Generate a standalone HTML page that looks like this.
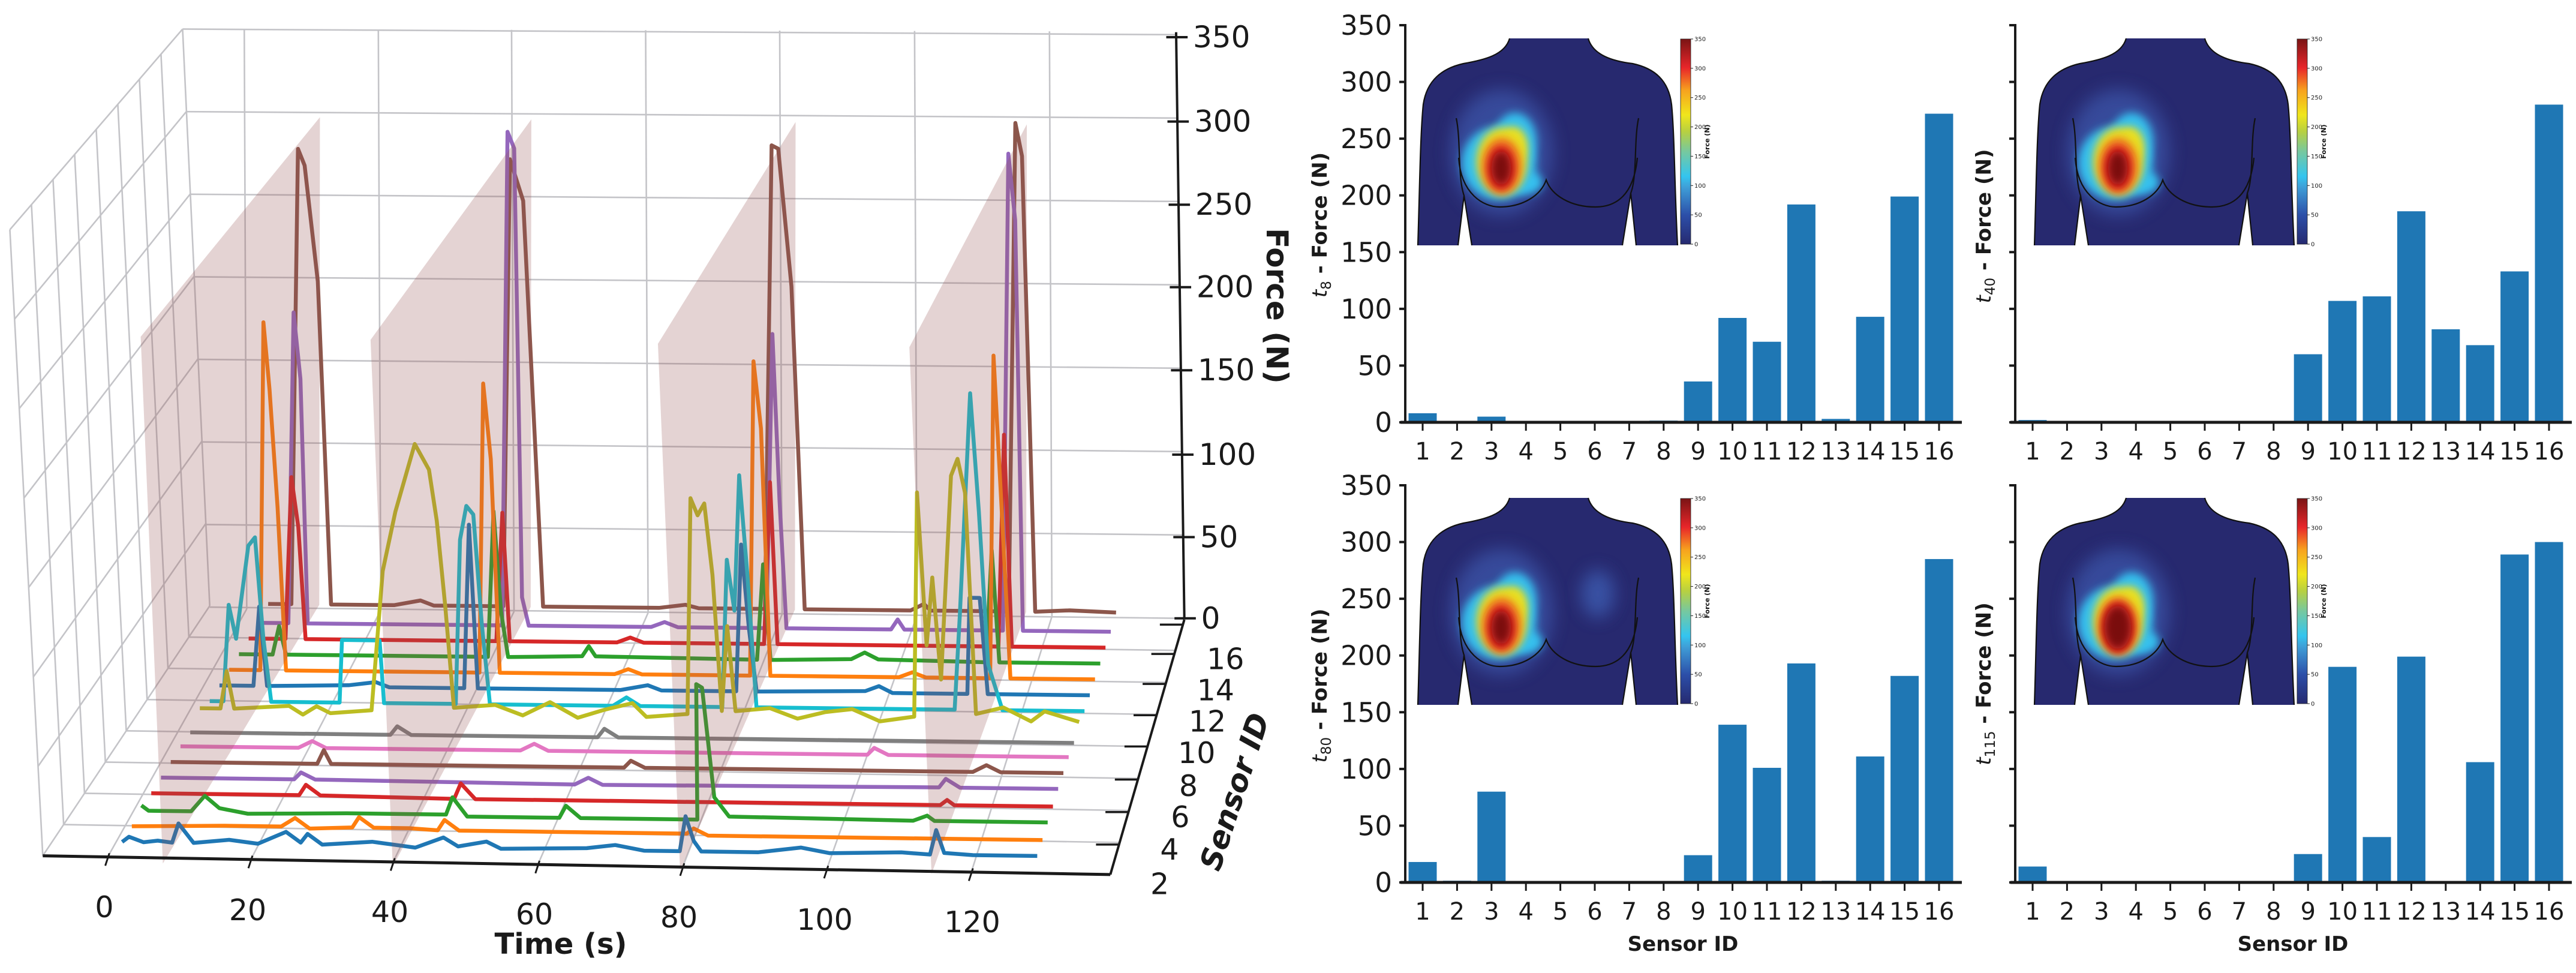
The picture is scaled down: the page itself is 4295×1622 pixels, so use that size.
<!DOCTYPE html>
<html><head><meta charset="utf-8"><style>
html,body{margin:0;padding:0;background:#fff;}
svg{display:block;font-family:"DejaVu Sans","Liberation Sans",sans-serif;}
</style></head><body>
<svg id="fig" xmlns="http://www.w3.org/2000/svg" width="4295" height="1622" viewBox="0 0 4295 1622">
<defs>
<linearGradient id="jet" x1="0" y1="1" x2="0" y2="0">
<stop offset="0" stop-color="#262a70"/><stop offset="0.14" stop-color="#2c4ea8"/><stop offset="0.28" stop-color="#3fa0d8"/><stop offset="0.33" stop-color="#34c5ef"/><stop offset="0.45" stop-color="#76c8a0"/><stop offset="0.55" stop-color="#b8d040"/><stop offset="0.63" stop-color="#f0e61c"/><stop offset="0.75" stop-color="#f7a21e"/><stop offset="0.86" stop-color="#e8262a"/><stop offset="1" stop-color="#7a1414"/>
</linearGradient>
<filter id="blur" x="-50%" y="-50%" width="200%" height="200%"><feGaussianBlur stdDeviation="7"/></filter>
<filter id="blur2" x="-50%" y="-50%" width="200%" height="200%"><feGaussianBlur stdDeviation="14"/></filter>
</defs>
<g id="left3d"></g>
<g id="bars"></g>
</svg>
<script>
// ---------- 3D chart data ----------
const sensorColors = ["#1f77b4","#ff7f0e","#2ca02c","#d62728","#9467bd","#8c564b","#e377c2","#7f7f7f","#bcbd22","#17becf","#1f77b4","#ff7f0e","#2ca02c","#d62728","#9467bd","#8c564b"];
const eventTimes = [8, 40, 80, 115];
const timeTicks = [0, 20, 40, 60, 80, 100, 120];
const forceTicks = [0, 50, 100, 150, 200, 250, 300, 350];
const sensorTicks = [2, 4, 6, 8, 10, 12, 14, 16];
const trace1 = [[1,3],[2,6],[4,3],[6,4],[8,3],[9,14],[11,3],[16,5],[20,3],[24,10],[26,4],[27,9],[29,3],[36,5],[40,3],[42,2],[46,8],[48,3],[52,6],[54,2],[66,3],[70,5],[74,2],[79,2],[80,22],[81,8],[82,2],[90,2],[96,5],[100,2],[110,3],[114,2],[115,16],[116,3],[120,2],[129,2]];
const trace2 = [[1,3],[14,4],[22,4],[24,9],[26,3],[32,4],[33,10],[35,4],[40,4],[44,3],[45,9],[47,3],[60,3],[79,3],[80,6],[82,2],[129,2]];
const trace3 = [[1,6],[2,3],[8,3],[10,12],[12,5],[16,2],[30,3],[44,3],[45,13],[47,2],[60,2],[61,9],[63,2],[79.5,2],[80,80],[80.8,78],[82,15],[84,4],[110,3],[112,6],[113,3],[129,3]];
const trace4 = [[1,4],[22,4],[23,10],[25,4],[44,3],[45,12],[47,3],[113,3],[114,6],[115,3],[129,3]];
const trace5 = [[1,4],[20,4],[21,8],[23,4],[60,3],[62,7],[64,3],[112,4],[113,9],[115,4],[129,4]];
const trace6 = [[1,4],[22,4],[23,12],[24,4],[66,4],[67,8],[69,4],[116,4],[118,8],[120,4],[129,4]];
const trace7 = [[1,4],[18,4],[20,8],[22,4],[50,4],[52,8],[54,4],[100,4],[101,8],[103,4],[129,4]];
const trace8 = [[1,3],[30,3],[31,8],[33,3],[60,3],[61,8],[63,3],[120,3],[129,3]];
const trace9 = [[1,8],[4,8],[5,30],[6,8],[14,10],[16,5],[18,10],[20,6],[26,8],[28,90],[30,125],[33,165],[35,150],[36,120],[37,70],[38,10],[44,12],[48,6],[52,14],[56,5],[60,10],[64,14],[66,6],[72,8],[73,135],[74,125],[75,132],[76,90],[77,10],[78,60],[79,10],[84,12],[88,6],[92,10],[96,12],[100,5],[105,8],[106,140],[107,50],[108,90],[109,30],[111,150],[112,160],[113,140],[114,10],[118,14],[122,6],[124,12],[129,6]];
const trace10 = [[1,3],[3,3],[4,60],[5,40],[7,95],[8,100],[9,40],[10,3],[20,3],[20.5,40],[26,40],[26.5,3],[37,3],[38,100],[39,120],[40,115],[41,50],[42,3],[60,3],[62,8],[64,3],[76,3],[77,90],[78,60],[79,140],[80,80],[81,3],[110,3],[111,60],[113,190],[114,120],[115,30],[117,3],[129,3]];
const trace11 = [[1,3],[6,3],[7,50],[8,3],[20,4],[24,6],[26,3],[37,3],[38,100],[39,3],[60,3],[64,6],[66,3],[77,3],[78,90],[79,40],[80,3],[96,4],[98,7],[100,3],[111,3],[111.5,60],[113,60],[114,3],[129,3]];
const trace12 = [[1,3],[5.6,3],[6.6,210],[7.4,170],[8.4,100],[9.4,3],[38,3],[39,175],[40,130],[41,3],[58,3],[60,6],[62,3],[78,3],[79,190],[80,150],[81,3],[100,3],[102,6],[104,3],[113.5,3],[114.5,195],[115.5,100],[116.5,3],[129,3]];
const trace13 = [[1,3],[6,3],[7,20],[8,3],[38,3],[39,90],[40,30],[41,3],[52,4],[53,10],[54,4],[78,3],[79,60],[80,3],[92,4],[94,8],[96,4],[112,3],[113,70],[114,3],[129,3]];
const trace14 = [[1,3],[6.5,3],[7.5,100],[8.5,70],[9.5,3],[38,3],[39,80],[40,3],[56,3],[58,6],[60,3],[78,3],[79,100],[80,3],[113,3],[114,130],[115,3],[129,3]];
const trace15 = [[1,3],[5.5,3],[6.4,190],[7.4,150],[8.4,3],[37.6,3],[38.6,300],[39.6,290],[40.6,20],[41.6,3],[60,3],[62,6],[64,3],[77.3,3],[78.3,180],[79.3,80],[80.3,3],[96,3],[97,9],[98,3],[112.8,3],[113.8,290],[114.8,250],[115.8,3],[129,3]];
const trace16 = [[1,5],[4.5,5],[5.5,280],[6.5,270],[8.5,200],[10.5,5],[20,5],[24,8],[26,5],[36.5,5],[37.5,275],[39.5,250],[42.5,5],[60,5],[64,7],[66,5],[76,5],[77,285],[78,283],[80,200],[82,5],[98,5],[100,9],[101,5],[112.8,5],[113.8,300],[114.8,280],[116.8,5],[122,6],[129,5]];
const traces = [trace1,trace2,trace3,trace4,trace5,trace6,trace7,trace8,trace9,trace10,trace11,trace12,trace13,trace14,trace15,trace16];

// ---------- bar data ----------
const sensorIds = [1,2,3,4,5,6,7,8,9,10,11,12,13,14,15,16];
const t8Values   = [8,0,5,0,1,0,0,1.5,36,92,71,192,3,93,199,272];
const t40Values  = [2,1,0,0,0,0,1,1,60,107,111,186,82,68,133,280];
const t80Values  = [18,1.5,80,1,1,0,0,1,24,139,101,193,1.5,111,182,285];
const t115Values = [14,1,0,0,0,1,0,1,25,190,40,199,1,106,289,300];
const barTicks = [0,50,100,150,200,250,300,350];
const cbarTicks = [0,50,100,150,200,250,300,350];

const NS = "http://www.w3.org/2000/svg";
function add(tag, parent){ const e = document.createElementNS(NS, tag); parent.appendChild(e); return e; }
function set(e, o){ for (const k in o) e.setAttribute(k, o[k]); return e; }
const lerp = (a,b,t) => a + (b-a)*t;

// ================= LEFT 3D CHART =================
const L = document.getElementById('left3d');
const MX = x => x*1.3713;
const MY = y => y*1.0417 - 10.9;
function proj(t, s, f){
  const u = t/130, v = (s-1)/15;
  const x0 = lerp(lerp(140,1270,u), lerp(318,1365,u), v);
  const y0 = lerp(lerp(1366,1386,u), lerp(990,1004,u), v);
  const k = 2.80 - 0.15*v;
  const h = f*k;
  return [MX(x0 - h*0.03*(1-v)), MY(y0 - h)];
}
function zl(x1,y1,x2,y2,parent,color,w){
  const e = add('line', parent);
  set(e,{x1:MX(x1),y1:MY(y1),x2:MX(x2),y2:MY(y2),stroke:color,'stroke-width':w});
  return e;
}
const grid = add('g', L);


const GC = "#c4c4c8", GW = 2.6;
for (let i=0;i<8;i++){
  const a = i/7;
  const e = zl(lerp(222,255,a), lerp(57,982,a), lerp(1430,1440,a), lerp(66,1000,a), grid, GC, GW);
  
  
}
const backX = [297,460,622,785,948,1112,1276];
const frontX = [131,305,478,654,830,1005,1181];
backX.forEach((bx,i)=>{
  const e = zl(bx,57+i*0.6,bx+3,985+i*2,grid,GC,GW);
  
  
  const a = (frontX[i]-52)/(1350-52);
  const f = zl(frontX[i], lerp(1380,1410,a), bx+3, 985+i*2, grid, GC, GW);
  
  
});
for (let i=0;i<8;i++){
  const a = i/7;
  const e = zl(lerp(222,255,a), lerp(57,980,a), lerp(12,52,a), lerp(378,1380,a), grid, GC, GW);
  
  
}
for (let j=0;j<=8;j++){
  const a = j/8;
  const e = zl(lerp(12,222,a), lerp(378,57,a), lerp(52,255,a), lerp(1380,980,a), grid, GC, GW);
  
  
  if (j>0 && j<8){
    const f = zl(lerp(52,255,a), lerp(1380,980,a), lerp(1350,1440,a), lerp(1410,1000,a), grid, GC, GW);
    
    
  }
}
const tg = add('g', L);


for (let si=15; si>=0; si--){
  const pts = traces[si].map(p => proj(p[0], si+1, p[1]).map(v=>v.toFixed(1)).join(',')).join(' ');
  const pl = add('polyline', tg);
  set(pl,{points:pts,fill:'none',stroke:sensorColors[si],'stroke-width':6.5,'stroke-linejoin':'round'});
  
  
}
eventTimes.forEach(t=>{
  const c = [proj(t,0,0),proj(t,16.5,0),proj(t,16.5,295),proj(t,0,300)];
  const pg = add('polygon', L);
  set(pg,{points:c.map(p=>p.join(',')).join(' '),fill:'rgba(150,85,85,0.26)'});
  
  
});
const ax = add('g', L);


const fa = zl(1430,62,1440,1000,ax,'#1a1a1a',4);


const ta = zl(52,1380,1350,1410,ax,'#1a1a1a',5);


const sa = zl(1350,1410,1440,1002,ax,'#1a1a1a',4);


const zyLevels = [1000,870,738,603,470,338,205,70];
forceTicks.forEach((v,i)=>{
  const zy = zyLevels[i];
  const x = lerp(1440,1430,(1000-zy)/930);
  const tk = zl(x-12,zy,x+14,zy,ax,'#1a1a1a',4);
  
  
  const tx = add('text', ax);
  set(tx,{x:MX(x)+28,y:MY(zy)+17,'font-size':50,fill:'#1a1a1a'});
  tx.textContent = v;
  
  
});
const tLabelPos = [[174,1512],[413,1517],[650,1520],[891,1524],[1132,1529],[1375,1533],[1621,1537]];
timeTicks.forEach((v,i)=>{
  const fx = frontX[i], a = (fx-52)/1298, fy = lerp(1380,1410,a);
  const tk = zl(fx+2,fy-6,fx-3,fy+14,ax,'#1a1a1a',3);
  
  
  const tx = add('text', ax);
  set(tx,{x:tLabelPos[i][0],y:tLabelPos[i][1]+17,'font-size':49,'text-anchor':'middle',fill:'#1a1a1a'});
  tx.textContent = v;
  
  
});
const sTickY = [1010,1057,1105,1155,1205,1258,1310,1362];
const sLabel = [[1490,1065],[1478,1115],[1468,1165],[1455,1215],[1445,1268],[1435,1318],[1422,1370],[1410,1425]];
sensorTicks.slice().reverse().forEach((v,i)=>{
  const zy = sTickY[i], x = lerp(1440,1350,(zy-1002)/408);
  const tk = zl(x-28,zy,x,zy,ax,'#1a1a1a',3.5);
  
  
  const tx = add('text', ax);
  set(tx,{x:MX(sLabel[i][0]),y:MY(sLabel[i][1])+17,'font-size':49,'text-anchor':'middle',fill:'#1a1a1a'});
  tx.textContent = v;
  
  
});
</script>
<script>
(function(){
  const L = document.getElementById('left3d');
  const t1 = document.createElementNS(NS,'text');
  L.appendChild(t1);
  set(t1,{x:935,y:1590,'font-size':48,'font-weight':'bold','text-anchor':'middle',fill:'#1a1a1a'});
  t1.textContent = 'Time (s)';
  
  
  const t2 = document.createElementNS(NS,'text');
  L.appendChild(t2);
  set(t2,{x:2112,y:510,'font-size':50,'font-weight':'bold','text-anchor':'middle',transform:'rotate(90 2112 510)',fill:'#1a1a1a'});
  t2.textContent = 'Force (N)';
  
  
  const t3 = document.createElementNS(NS,'text');
  L.appendChild(t3);
  set(t3,{x:2075,y:1325,'font-size':50,'font-weight':'bold','font-style':'italic','text-anchor':'middle',transform:'rotate(-72 2075 1325)',fill:'#1a1a1a'});
  t3.textContent = 'Sensor ID';
  
  
})();

// ================= BAR PANELS =================
const B = document.getElementById('bars');
const SCALE = 662/350;
const panels = [
  {name:'t8', sub:'8', vals:t8Values, ax:2343, y0:704, showY:true, lx:2212, ly:375, ix:2364, iy:64, rightBlob:false},
  {name:'t40', sub:'40', vals:t40Values, ax:3360, y0:704, showY:false, lx:3319, ly:377, ix:3392, iy:64, rightBlob:false},
  {name:'t80', sub:'80', vals:t80Values, ax:2343, y0:1471, showY:true, lx:2212, ly:1143, ix:2364, iy:830, rightBlob:true, xlabel:true},
  {name:'t115', sub:'115', vals:t115Values, ax:3360, y0:1471, showY:false, lx:3319, ly:1140, ix:3392, iy:830, rightBlob:false, xlabel:true}
];
function yPos(p,v){ return p.y0 - v*SCALE; }
function xPos(p,i){ return p.ax + 29 + i*57.4; }

function drawInset(p, g){
  const ig = add('g', g);
  set(ig,{transform:'translate('+p.ix+','+p.iy+')'});
  
  
  const bodyD = "M153,0 L284,0 C292,28 325,38 358,42 C395,50 418,70 423,110 C428,160 428,250 433,345 L0,345 C3,250 4,160 9,110 C15,70 40,50 76,42 C110,36 145,28 153,0 Z";
  const cp = add('clipPath', ig);
  set(cp,{id:'clip-'+p.name});
  const cpp = add('path', cp);
  set(cpp,{d:bodyD});
  const body = add('path', ig);
  set(body,{d:bodyD,fill:'#27296f'});
  
  
  const heat = add('g', ig);
  set(heat,{'clip-path':'url(#clip-'+p.name+')'});
  
  
  const big = p.name==='t115';
  const blobs = [
    ['#3d58ad',0.7,140,190,85,105,'blur2'],
    ['#34c0ee',1,135,208,62,62,'blur'],['#34c0ee',1,162,172,36,48,'blur'],['#34c0ee',1,178,240,30,20,'blur'],
    ['#e8e020',1,140,205,42,56,'blur'],['#e8e020',1,160,178,22,30,'blur'],
    ['#f08020',1,140,212,33,47,'blur'],
    ['#e02020',1,139,216,big?28:24,big?44:38,'blur'],
    ['#7a1010',1,139,216,big?22:16,big?36:28,'blur']
  ];
  if (p.rightBlob) blobs.unshift(['#3e5cb0',0.8,300,160,28,40,'blur2']);
  blobs.forEach(b=>{
    const e = add('ellipse', heat);
    set(e,{cx:b[2],cy:b[3],rx:b[4],ry:b[5],fill:b[0],opacity:b[1],filter:'url(#'+b[6]+')'});
  });
  const gaps = add('path', ig);
  set(gaps,{d:"M67,346 L77,262 L90,346 Z M341,346 L355,258 L364,346 Z",fill:'#fff'});
  const lines = add('path', ig);
  set(lines,{d:"M0,345 C3,250 4,160 9,110 C15,70 40,50 76,42 C110,36 145,28 153,0 M284,0 C292,28 325,38 358,42 C395,50 418,70 423,110 C428,160 428,250 433,345 M64,133 C72,170 66,230 77,262 L67,345 M77,262 L90,345 M368,133 C360,170 366,230 355,258 L364,345 M355,258 L341,345 M68,199 C72,260 110,281 136,281 C175,281 205,262 214,236 C223,262 255,281 296,281 C330,281 360,262 366,199",fill:'none',stroke:'#111','stroke-width':2.2});
  
  
  const cb = add('rect', ig);
  set(cb,{x:438,y:1,width:17,height:342,fill:'url(#jet)',stroke:'#222','stroke-width':0.8});
  
  
  cbarTicks.forEach(v=>{
    const y = 343 - v/350*342;
    const tk = add('line', ig);
    set(tk,{x1:455,y1:y,x2:459,y2:y,stroke:'#222','stroke-width':1});
    const tx = add('text', ig);
    set(tx,{x:461,y:y+3.5,'font-size':10,fill:'#222'});
    tx.textContent = v;
    
    
  });
  const ct = add('text', ig);
  set(ct,{x:486,y:172,'font-size':11,'font-weight':'bold','text-anchor':'middle',transform:'rotate(-90 486 172)',fill:'#111'});
  ct.textContent = 'Force (N)';
  
  
}

panels.forEach(p=>{
  const g = add('g', B);
  
  
  p.vals.forEach((v,i)=>{
    const h = v*SCALE;
    const r = add('rect', g);
    set(r,{x:xPos(p,i)-23.5,y:yPos(p,v),width:47,height:h,fill:'#1f77b4'});
    
    
  });
  drawInset(p, g);
  const ya = add('line', g);
  set(ya,{x1:p.ax,y1:yPos(p,350)-2,x2:p.ax,y2:p.y0+2,stroke:'#1a1a1a','stroke-width':4});
  
  
  const xa = add('line', g);
  set(xa,{x1:p.ax-8,y1:p.y0,x2:p.ax+928,y2:p.y0,stroke:'#1a1a1a','stroke-width':5});
  
  
  barTicks.forEach(v=>{
    const y = yPos(p,v);
    const tk = add('line', g);
    set(tk,{x1:p.ax-10,y1:y,x2:p.ax,y2:y,stroke:'#1a1a1a','stroke-width':4});
    
    
    if (p.showY){
      const tx = add('text', g);
      set(tx,{x:p.ax-22,y:y+16,'font-size':45,'text-anchor':'end',fill:'#1a1a1a'});
      tx.textContent = v;
      
      
    }
  });
  sensorIds.forEach((id,i)=>{
    const x = xPos(p,i);
    const tk = add('line', g);
    set(tk,{x1:x,y1:p.y0,x2:x,y2:p.y0+14,stroke:'#1a1a1a','stroke-width':3});
    
    
    const tx = add('text', g);
    set(tx,{x:x,y:p.y0+62,'font-size':40,'text-anchor':'middle',fill:'#1a1a1a'});
    tx.textContent = id;
    
    
  });
  const yl = add('text', g);
  set(yl,{x:p.lx,y:p.ly,'font-size':34,'font-weight':'bold','text-anchor':'middle',transform:'rotate(-90 '+p.lx+' '+p.ly+')',fill:'#1a1a1a'});
  const ts1 = add('tspan', yl); set(ts1,{'font-style':'italic','font-weight':'normal'}); ts1.textContent = 't';
  const ts2 = add('tspan', yl); set(ts2,{'font-size':23,dy:7,'font-weight':'normal'}); ts2.textContent = p.sub;
  const ts3 = add('tspan', yl); set(ts3,{dy:-7}); ts3.textContent = ' - Force (N)';
  
  
  if (p.xlabel){
    const xl = add('text', g);
    set(xl,{x:p.ax+463,y:1585,'font-size':34,'font-weight':'bold','text-anchor':'middle',fill:'#1a1a1a'});
    xl.textContent = 'Sensor ID';
    
    
  }
});
</script>
</body></html>
